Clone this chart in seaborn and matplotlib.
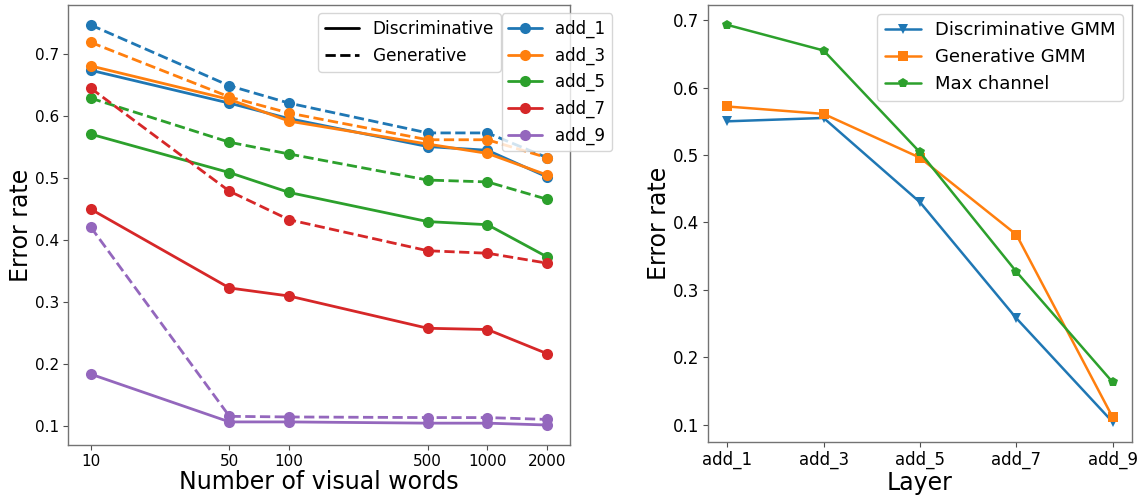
import matplotlib
matplotlib.use("Agg")
import matplotlib.pyplot as plt
from matplotlib.lines import Line2D
import seaborn as sns
import pandas as pd

sns.set_style("ticks")
plt.rcParams["font.family"] = ["DejaVu Sans"]
plt.rcParams["axes.edgecolor"] = "0.45"
plt.rcParams["axes.linewidth"] = 1.0
plt.rcParams["text.color"] = "black"
plt.rcParams["axes.labelcolor"] = "black"
plt.rcParams["xtick.labelcolor"] = "black"
plt.rcParams["ytick.labelcolor"] = "black"

# Left panel: error rate vs. vocabulary size, per layer
visual_words = [10, 50, 100, 500, 1000, 2000]
layers = ["add_1", "add_3", "add_5", "add_7", "add_9"]

disc_add_1 = [0.674, 0.621, 0.596, 0.551, 0.545, 0.502]
disc_add_3 = [0.681, 0.627, 0.592, 0.555, 0.540, 0.505]
disc_add_5 = [0.571, 0.509, 0.477, 0.430, 0.425, 0.373]
disc_add_7 = [0.450, 0.323, 0.310, 0.258, 0.256, 0.217]
disc_add_9 = [0.184, 0.107, 0.107, 0.105, 0.105, 0.102]

gen_add_1 = [0.747, 0.649, 0.621, 0.573, 0.573, 0.533]
gen_add_3 = [0.719, 0.631, 0.605, 0.562, 0.562, 0.533]
gen_add_5 = [0.629, 0.558, 0.539, 0.497, 0.494, 0.466]
gen_add_7 = [0.645, 0.479, 0.433, 0.383, 0.379, 0.363]
gen_add_9 = [0.421, 0.116, 0.115, 0.114, 0.114, 0.111]

# Right panel: error rate per layer for each method
layer_ticks = ["add_1", "add_3", "add_5", "add_7", "add_9"]
disc_gmm = [0.550, 0.555, 0.430, 0.258, 0.104]
gen_gmm = [0.572, 0.561, 0.496, 0.382, 0.111]
max_channel = [0.693, 0.655, 0.504, 0.327, 0.163]

palette = sns.color_palette("tab10")

fig = plt.figure(figsize=(11.43, 4.97), dpi=100)
ax1 = fig.add_axes([0.0595, 0.1046, 0.4392, 0.8853])
ax2 = fig.add_axes([0.6194, 0.1107, 0.3710, 0.8792])

disc = [disc_add_1, disc_add_3, disc_add_5, disc_add_7, disc_add_9]
gen = [gen_add_1, gen_add_3, gen_add_5, gen_add_7, gen_add_9]

LW1, MS1 = 2.0, 8
for i, name in enumerate(layers):
    for vals, ls in ((disc[i], "-"), (gen[i], "--")):
        df = pd.DataFrame({"words": visual_words, "err": vals})
        sns.lineplot(data=df, x="words", y="err", ax=ax1, color=palette[i],
                     linestyle=ls, marker="o", markersize=MS1, linewidth=LW1,
                     markeredgewidth=0, legend=False)

ax1.set_xscale("log")
ax1.set_xticks(visual_words)
ax1.set_xticklabels([str(v) for v in visual_words])
ax1.minorticks_off()
ax1.set_xlabel("Number of visual words", fontsize=17, labelpad=1)
ax1.set_ylabel("Error rate", fontsize=17, labelpad=1)
ax1.tick_params(labelsize=11, length=3.5, pad=3, color="0.3")

style_handles = [Line2D([], [], color="black", linestyle="-", linewidth=LW1),
                 Line2D([], [], color="black", linestyle="--", linewidth=LW1)]
leg_style = ax1.legend(style_handles, ["Discriminative", "Generative"],
                       loc="upper right", bbox_to_anchor=(0.879, 1.0),
                       fontsize=12.2)
ax1.add_artist(leg_style)
layer_handles = [Line2D([], [], color=palette[i], marker="o", markersize=MS1,
                        linewidth=LW1, markeredgewidth=0)
                 for i in range(len(layers))]
ax1.legend(layer_handles, layers, loc="upper right", bbox_to_anchor=(1.1, 1.0),
           fontsize=12)

markers = ["v", "s", "p"]
labels = ["Discriminative GMM", "Generative GMM", "Max channel"]
for i, (vals, mk, lab) in enumerate(zip([disc_gmm, gen_gmm, max_channel], markers, labels)):
    df = pd.DataFrame({"layer": layer_ticks, "err": vals})
    sns.lineplot(data=df, x="layer", y="err", ax=ax2, color=palette[i],
                 marker=mk, markersize=7, linewidth=1.8, markeredgewidth=0,
                 label=lab)

ax2.set_xlabel("Layer", fontsize=17, labelpad=1)
ax2.set_ylabel("Error rate", fontsize=17, labelpad=1)
ax2.tick_params(labelsize=12, length=3.5, pad=3, color="0.3")
ax2.legend(loc="upper right", fontsize=13)

fig.savefig("out.png", dpi=100)
